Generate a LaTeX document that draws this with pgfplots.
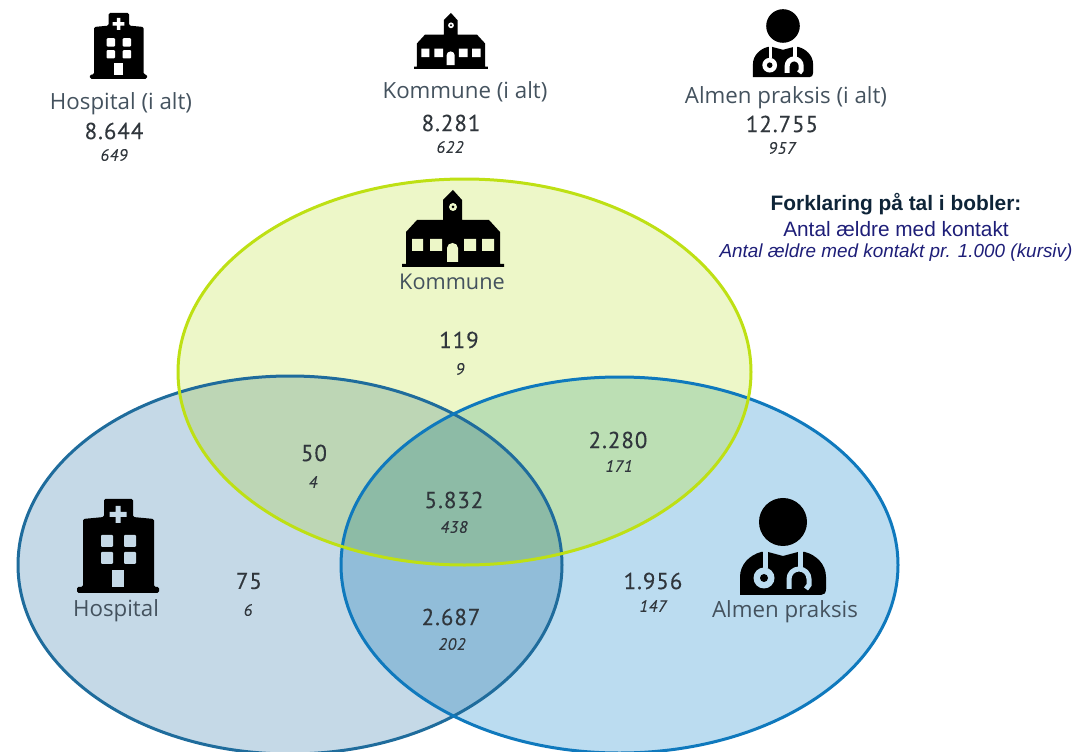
\documentclass[border=0pt]{standalone}
\usepackage{fontspec}
\usepackage{pgfplots}
\pgfplotsset{compat=1.18}
\setmainfont{Open Sans}
\newfontfamily\numfont[LetterSpace=4,FakeBold=0.25]{PT Sans}
\newfontfamily\arialfont{Liberation Sans}
\definecolor{txt}{HTML}{44525E}
\definecolor{numc}{HTML}{30363C}
\definecolor{navy}{HTML}{1E1E78}
\definecolor{boldc}{HTML}{0E2438}
\definecolor{hF}{HTML}{C5D9E7}
\definecolor{kF}{HTML}{EDF7C8}
\definecolor{aF}{HTML}{BBDCF0}
\definecolor{hkF}{HTML}{BDD6B5}
\definecolor{kaF}{HTML}{BCDFB4}
\definecolor{haF}{HTML}{91BDD9}
\definecolor{hkaF}{HTML}{8DBBA6}
\definecolor{hE}{HTML}{1F6C9C}
\definecolor{aE}{HTML}{0F79BD}
\definecolor{kE}{HTML}{BEE014}
\newcommand\Hosp{(axis cs:290,565) ellipse [x radius=272,y radius=189]}
\newcommand\Komm{(axis cs:464.5,372) ellipse [x radius=286.5,y radius=193]}
\newcommand\Alm{(axis cs:619.5,565) ellipse [x radius=278.5,y radius=188]}
\newcommand\hospitalicon[4]{%
\begin{scope}[shift={(#1,#2)},scale=#3]
\fill[black,rounded corners=1.5] (-41,94) -- (-41,88) -- (-35,88) -- (-35,20) -- (-14,18) -- (-14,0) -- (15,0) -- (15,18) -- (36,20) -- (36,88) -- (41,88) -- (41,94) -- cycle;
\fill[#4] (-2.5,7) rectangle (2.5,24) (-8.5,13) rectangle (8.5,18);
\fill[#4,rounded corners=1] (-17,36) rectangle (-5,48) (6,36) rectangle (18,48) (-17,53) rectangle (-5,65) (6,53) rectangle (18,65);
\fill[#4] (-6,71) rectangle (6,88);
\end{scope}}
\newcommand\schoolicon[4]{%
\begin{scope}[shift={(#1,#2)},scale=#3]
\fill[black] (-51,77) -- (-51,74) -- (-47,74) -- (-47,42) -- (-36,30) -- (-10,30) -- (-10,10) -- (0,0) -- (9,10) -- (9,30) -- (36,30) -- (47,42) -- (47,74) -- (51,74) -- (51,77) -- cycle;
\fill[#4] (0,17) circle (4);
\fill[black] (0,17) circle (1.5);
\fill[#4] (-41,49) rectangle (-30,61) (-23,49) rectangle (-11,61) (11,49) rectangle (23,61) (29,49) rectangle (41,61);
\fill[#4] (-6,72) -- (-6,58) arc[start angle=180,end angle=360,x radius=5.5,y radius=5] -- (5,72) -- cycle;
\end{scope}}
\newcommand\doctoricon[4]{%
\begin{scope}[shift={(#1,#2)},scale=#3]
\fill[black] (0,0) circle (24);
\fill[black] (-43,73) -- (-43,55) .. controls (-43,42) and (-33,33) .. (-22,30) -- (-15,30) -- (0,34) -- (15,30) -- (22,30) .. controls (33,33) and (43,42) .. (43,55) -- (43,67) .. controls (43,71) and (41,73) .. (38,73) -- cycle;
\fill[#4] (-20.5,27) rectangle (-15.5,46);
\fill[#4] (14.5,27) rectangle (19.5,46);
\fill[#4] (-19,56) circle (10.5);
\fill[black] (-19,56) circle (4);
\draw[#4,line width=5] (6,67) -- (6,57) arc[start angle=180,end angle=360,radius=10] -- (26,63) -- (23,67);
\end{scope}}
\begin{document}
\begin{tikzpicture}
\useasboundingbox (0,0) rectangle (1074pt,752pt);
\begin{axis}[at={(0,0)},anchor=south west,width=1074pt,height=752pt,scale only axis,hide axis,
  xmin=0,xmax=1074,ymin=0,ymax=752,y dir=reverse,clip=false]
\fill[aF] \Alm;
\fill[hF] \Hosp;
\fill[kF] \Komm;
\begin{scope}\clip \Hosp; \fill[haF] \Alm; \end{scope}
\begin{scope}\clip \Komm; \fill[hkF] \Hosp; \end{scope}
\begin{scope}\clip \Komm; \fill[kaF] \Alm; \end{scope}
\begin{scope}\clip \Komm; \clip \Hosp; \fill[hkaF] \Alm; \end{scope}
\draw[hE,line width=3pt] \Hosp;
\draw[aE,line width=3pt] \Alm;
\draw[kE,line width=3pt] \Komm;
% counts
\addplot[only marks,mark=none,point meta=explicit symbolic,nodes near coords,
  nodes near coords style={anchor=center,font=\numfont\fontsize{23}{23}\selectfont,text=numc,inner sep=0pt}]
  table[meta=label,row sep=\\]{
  x y label\\
  114 131 8.644\\
  451 123 8.281\\
  782 124 12.755\\
  459 340 119\\
  314 453 50\\
  618 440 2.280\\
  454 500 5.832\\
  249 581 75\\
  451 617 2.687\\
  653 581 1.956\\
};
% per 1.000
\addplot[only marks,mark=none,point meta=explicit symbolic,nodes near coords,
  nodes near coords style={anchor=center,font=\numfont\itshape\fontsize{16.5}{17}\selectfont,text=numc,inner sep=0pt}]
  table[meta=label,row sep=\\]{
  x y label\\
  114 155 649\\
  450 147 622\\
  782 148 957\\
  460 369 9\\
  313 482 4\\
  619 466 171\\
  454 527 438\\
  248 610 6\\
  452 644 202\\
  653 606 147\\
};
\node[text=txt,font=\fontsize{22.3}{22}\selectfont,inner sep=0pt] at (axis cs:121,103.5) {Hospital (i alt)};
\node[text=txt,font=\fontsize{22.3}{22}\selectfont,inner sep=0pt] at (axis cs:465,92) {Kommune (i alt)};
\node[text=txt,font=\fontsize{22.3}{22}\selectfont,inner sep=0pt] at (axis cs:786,97.5) {Almen praksis (i alt)};
\node[text=txt,font=\fontsize{21.7}{22}\selectfont,inner sep=0pt] at (axis cs:452,282) {Kommune};
\node[text=txt,font=\fontsize{22.3}{22}\selectfont,inner sep=0pt] at (axis cs:116,611) {Hospital};
\node[text=txt,font=\fontsize{22.3}{22}\selectfont,inner sep=0pt] at (axis cs:785,612) {Almen praksis};
\node[text=boldc,font=\arialfont\bfseries\fontsize{20.9}{21}\selectfont,inner sep=0pt] at (axis cs:896,204) {Forklaring på tal i bobler:};
\node[text=navy,font=\arialfont\fontsize{20.8}{21}\selectfont,inner sep=0pt] at (axis cs:896,229) {Antal ældre med kontakt};
\node[text=navy,font=\arialfont\itshape\fontsize{18.9}{19}\selectfont,inner sep=0pt] at (axis cs:896,253) {Antal ældre med kontakt pr. 1.000 (kursiv)};
\end{axis}
\begin{scope}[x=1pt,y=-1pt,yshift=752pt]
\hospitalicon{118.5}{13}{0.70}{white}
\schoolicon{451}{13}{0.725}{white}
\doctoricon{783}{26}{0.70}{white}
\hospitalicon{118}{499}{1}{hF}
\schoolicon{453}{190}{1}{kF}
\doctoricon{783}{522}{1}{aF}
\end{scope}
\end{tikzpicture}
\end{document}
